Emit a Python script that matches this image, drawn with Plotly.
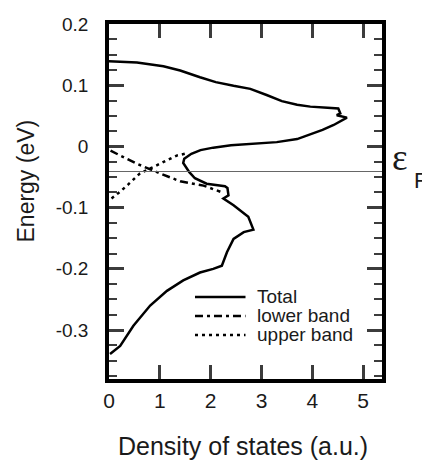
import plotly.graph_objects as go

# ---- data ----
dos_total = [0.00, 0.55, 1.07, 1.40, 1.79, 2.10, 2.45, 2.78, 3.10, 3.40, 3.70, 3.96, 4.30, 4.51,
             4.55, 4.48, 4.68, 4.42, 4.20, 3.95, 3.70, 3.30, 2.80, 2.40, 2.05, 1.80, 1.62, 1.48,
             1.46, 1.52, 1.58, 1.69, 1.92, 2.28, 2.33, 2.35, 2.25, 2.45, 2.74, 2.84, 2.65, 2.45,
             2.32, 2.22, 2.05, 1.79, 1.46, 1.14, 0.81, 0.48, 0.22, 0.02]
energy_total = [0.139, 0.137, 0.131, 0.124, 0.113, 0.105, 0.099, 0.094, 0.084, 0.074, 0.068, 0.065,
                0.063, 0.062, 0.054, 0.051, 0.047, 0.035, 0.027, 0.020, 0.012, 0.007, 0.004, 0.002,
                -0.002, -0.006, -0.012, -0.020, -0.027, -0.034, -0.042, -0.052, -0.061, -0.065,
                -0.068, -0.080, -0.085, -0.096, -0.115, -0.136, -0.140, -0.151, -0.173, -0.195,
                -0.200, -0.206, -0.219, -0.236, -0.260, -0.293, -0.326, -0.339]

dos_lower = [0.03, 0.54, 1.00, 1.40, 1.86, 2.19]
energy_lower = [-0.007, -0.028, -0.044, -0.057, -0.064, -0.074]

dos_upper = [0.05, 0.22, 0.38, 0.61, 0.81, 1.07, 1.33, 1.55]
energy_upper = [-0.085, -0.074, -0.062, -0.044, -0.036, -0.025, -0.015, -0.011]

fermi_energy = -0.041

series_names = ["Total", "lower band", "upper band"]

x_ticks = [0, 1, 2, 3, 4, 5]
x_tick_labels = ["0", "1", "2", "3", "4", "5"]
y_ticks = [-0.3, -0.2, -0.1, 0, 0.1, 0.2]
y_tick_labels = ["-0.3", "-0.2", "-0.1", "0", "0.1", "0.2"]

FONT = "Liberation Sans, Arial, Helvetica, sans-serif"
INK = "#1a1a1a"
TICK = "#3c3c3c"
X_RANGE = [0, 5.37]
Y_RANGE = [-0.38, 0.2]
styles = [dict(color="black", width=2.5),
          dict(color="black", width=2.5, dash="8px,4px,3px,4px"),
          dict(color="black", width=2.5, dash="3px,4px")]

fig = go.Figure()
for xs, ys, name, st in zip([dos_total, dos_lower, dos_upper],
                            [energy_total, energy_lower, energy_upper],
                            series_names, styles):
    fig.add_trace(go.Scatter(x=xs, y=ys, mode="lines", name=name, line=st, showlegend=False))

fig.add_shape(type="line", xref="paper", x0=0, x1=1, yref="y", y0=fermi_energy, y1=fermi_energy,
              line=dict(color="#666666", width=1))

# legend drawn as key samples + labels inside the plot area
leg_x0, leg_x1, leg_text_x = 0.315, 0.5, 0.54
leg_rows = [0.231, 0.1775, 0.124]
for name, st, ly in zip(series_names, styles, leg_rows):
    fig.add_shape(type="line", xref="paper", yref="paper", x0=leg_x0, x1=leg_x1, y0=ly, y1=ly,
                  line=st)
    fig.add_annotation(text=name, xref="paper", yref="paper", x=leg_text_x, y=ly,
                       xanchor="left", yanchor="middle", showarrow=False, borderpad=0,
                       font=dict(family=FONT, size=19, color=INK))

fig.add_annotation(text="ε", xref="paper", x=1, xanchor="left", xshift=8,
                   yref="y", y=fermi_energy, yanchor="middle", yshift=14,
                   showarrow=False, font=dict(family="Liberation Serif, serif", size=37, color=INK))
fig.add_annotation(text="F", xref="paper", x=1, xanchor="left", xshift=30,
                   yref="y", y=fermi_energy, yanchor="middle", yshift=-9,
                   showarrow=False, font=dict(family=FONT, size=22, color=INK))

fig.add_annotation(text="Energy (eV)", xref="paper", x=0, xanchor="center", xshift=-84,
                   yref="paper", y=0.5, yanchor="middle", yshift=20, textangle=-90,
                   showarrow=False, font=dict(family=FONT, size=23, color=INK))
fig.add_annotation(text="Density of states (a.u.)", xref="paper", x=0.5, xanchor="center", xshift=-3,
                   yref="paper", y=0, yanchor="middle", yshift=-67,
                   showarrow=False, font=dict(family=FONT, size=25, color=INK))

fig.update_layout(
    width=422, height=460,
    margin=dict(l=109, r=40, t=24, b=81),
    plot_bgcolor="white", paper_bgcolor="white",
    showlegend=False,
    xaxis=dict(range=X_RANGE, tickmode="array", tickvals=x_ticks, ticktext=x_tick_labels,
               tickfont=dict(family=FONT, size=21, color=INK),
               showline=True, linecolor="black", linewidth=3.5, mirror="ticks",
               ticks="inside", ticklen=14, tickwidth=2.5, tickcolor=TICK,
               showgrid=False, zeroline=False),
    yaxis=dict(range=Y_RANGE, tickmode="array", tickvals=y_ticks, ticktext=y_tick_labels,
               tickfont=dict(family=FONT, size=19, color=INK), ticklabelstandoff=13,
               showline=True, linecolor="black", linewidth=3.5, mirror="allticks",
               ticks="inside", ticklen=15, tickwidth=2.5, tickcolor=TICK,
               showgrid=False, zeroline=False,
               minor=dict(ticks="inside", dtick=0.025, ticklen=8, tickwidth=2, tickcolor=TICK)),
)

fig.write_html("out.html")
